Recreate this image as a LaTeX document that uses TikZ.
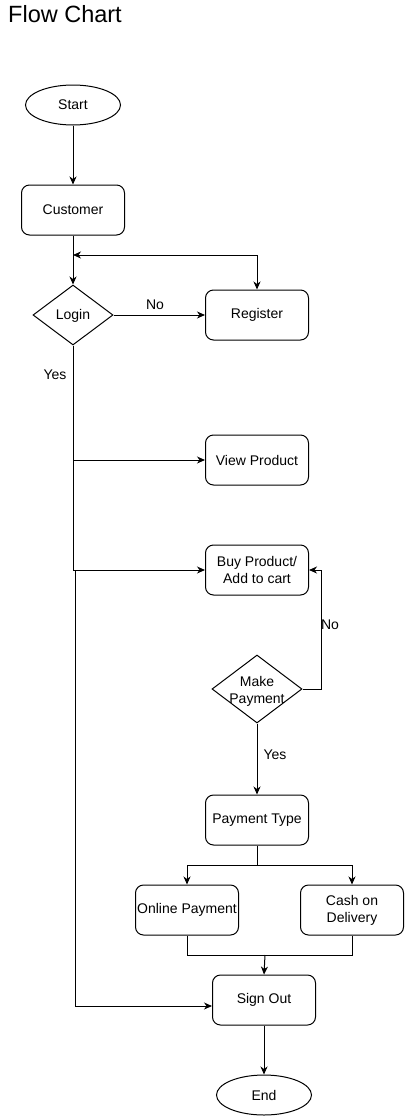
\documentclass[tikz,border=0pt]{standalone}
\usepackage{fontspec}
\setmainfont{Liberation Sans}
\usetikzlibrary{shapes.geometric,arrows.meta}
\begin{document}
\begin{tikzpicture}[x=1pt,y=-1pt,
  every node/.style={font=\fontsize{14}{17}\selectfont},
  box/.style={draw,rounded corners=8pt,minimum width=103pt,minimum height=50pt,align=center,inner sep=1pt,line width=1pt},
  ell/.style={draw,ellipse,minimum width=95pt,minimum height=40pt,inner sep=0pt,line width=1pt},
  dia/.style={draw,diamond,inner sep=0pt,line width=1pt},
  conn/.style={line width=1pt},
  arr/.style={conn,-{Stealth[length=8pt,width=7pt,inset=2.5pt]}},
  lbl/.style={inner sep=1pt}]
\useasboundingbox (0,0) rectangle (405,1116);
\node[anchor=base west,inner sep=0pt,font=\fontsize{23.5}{28}\selectfont] (title) at (8,23) {Flow Chart};
\node[ell] (start) at (73,105) {Start};
\node[box] (cust) at (73,210) {Customer};
\node[dia,minimum width=80pt,minimum height=60pt] (login) at (73,315) {};
\node (logintext) at (73,316) {Login};
\node[box] (reg) at (257,315) {Register};
\node[box] (view) at (257,460) {View Product};
\node[box] (buy) at (257,570) {Buy Product/\\Add to cart};
\node[dia,minimum width=90pt,minimum height=68pt] (pay) at (257,689) {};
\node[align=center] (paytext) at (257,691) {Make\\Payment};
\node[box] (ptype) at (257,820) {Payment Type};
\node[box] (online) at (187,910) {Online Payment};
\node[box] (cash) at (352,910) {Cash on\\Delivery};
\node[box] (sign) at (264,1000) {Sign Out};
\node[ell] (end) at (264,1095) {End};

\coordinate (j1) at (73,255);
\coordinate (jr) at (321,689);
\coordinate (j2) at (257,865);
\coordinate (j3) at (265,955);
\coordinate (jl) at (75,570);
\coordinate (so) at (75,1006);

\draw[arr] (start) -- (cust);
\draw[arr] (cust) -- (login.north);
\draw[conn,{Stealth[length=8pt,width=7pt,inset=2.5pt]}-{Stealth[length=8pt,width=7pt,inset=2.5pt]}] (j1) -| (reg.north);
\draw[arr] (login.east) -- (reg.west);
\node (no1) at (155,305) {No};
\draw[arr] (login.south) |- (view.west);
\draw[arr] (login.south) |- (buy.west);
\node (yes1) at (55,375) {Yes};
\draw[arr] (jl) -- (so) -- (sign.west |- so);
\draw[arr] (pay.east) -- (jr) |- (buy.east);
\node (no2) at (330,625) {No};
\draw[arr] (pay.south) -- (ptype.north);
\node (yes2) at (275,755) {Yes};
\draw[conn] (ptype.south) -- (j2);
\draw[arr] (j2) -| (online.north);
\draw[arr] (j2) -| (cash.north);
\draw[conn] (online.south) |- (j3) -| (cash.south);
\draw[arr] (j3) -- (sign.north);
\draw[arr] (sign) -- (end);
\end{tikzpicture}
\end{document}
